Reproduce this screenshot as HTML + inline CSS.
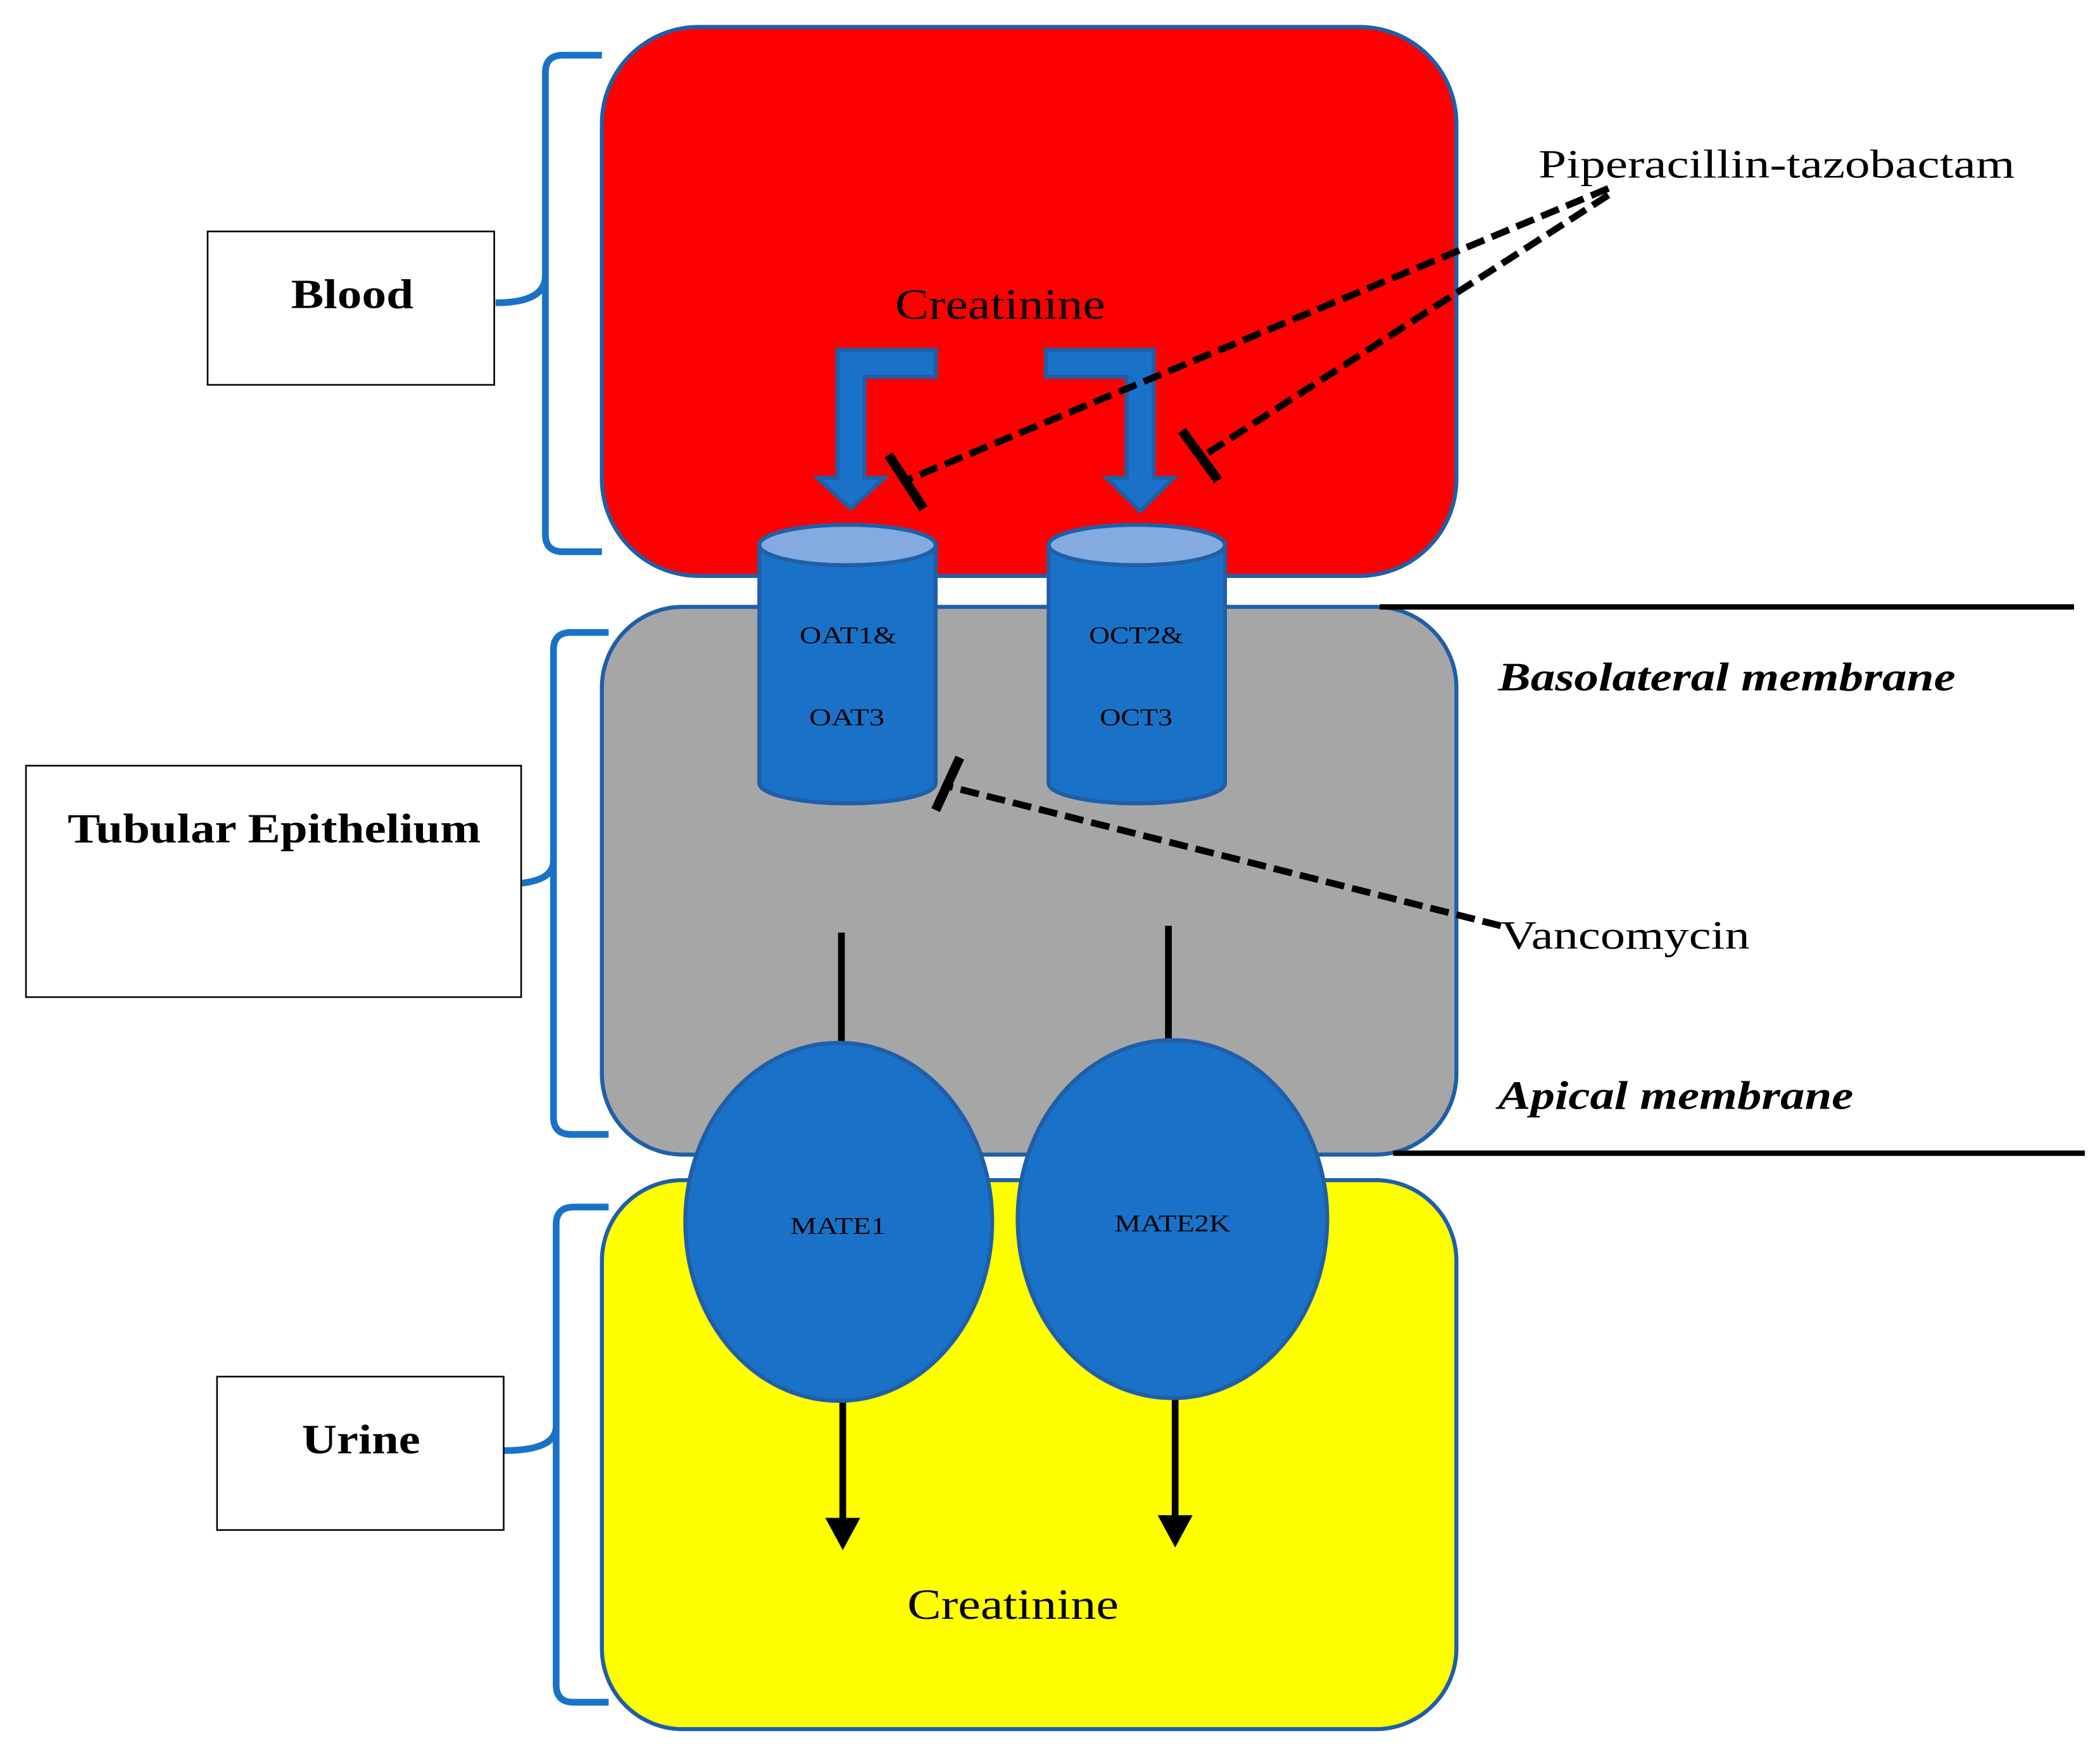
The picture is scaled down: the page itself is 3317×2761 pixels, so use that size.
<!DOCTYPE html>
<html><head><meta charset="utf-8"><style>html,body{margin:0;padding:0;background:#fff}svg{display:block}</style></head>
<body>
<svg width="3317" height="2761" viewBox="0 0 1560 1299" xmlns="http://www.w3.org/2000/svg" font-family="'Liberation Serif', serif">
<rect x="0" y="0" width="1560" height="1299" fill="#fff"/>
<rect x="447" y="20" width="635" height="408" rx="72" fill="#ff0000" stroke="#1f5fa8" stroke-width="3"/>
<rect x="447" y="451" width="635" height="407" rx="60" fill="#a6a6a6" stroke="#1f5fa8" stroke-width="3"/>
<rect x="447" y="877" width="635" height="408" rx="60" fill="#ffff00" stroke="#1f5fa8" stroke-width="3"/>
<g fill="none" stroke="#1a72c8" stroke-width="5">
<path d="M447,41 L418,41 Q405,41 405,54 L405,397 Q405,410 418,410 L447,410 M405,205 Q405,225 368,225"/>
<path d="M452,470 L424,470 Q411,470 411,483 L411,830 Q411,843 424,843 L452,843 M411,640 Q411,657 374,657"/>
<path d="M452,897 L426,897 Q413,897 413,910 L413,1252 Q413,1265 426,1265 L452,1265 M413,1060 Q413,1078 374,1078"/>
</g>
<g fill="#fff" stroke="#000" stroke-width="1.2">
<rect x="154" y="172" width="213" height="114"/>
<rect x="19" y="569" width="368" height="172"/>
<rect x="161" y="1023" width="213" height="114"/>
</g>
<g font-weight="bold" font-size="31" fill="#000" lengthAdjust="spacingAndGlyphs">
<text x="216" y="229" textLength="91" lengthAdjust="spacingAndGlyphs">Blood</text>
<text x="50" y="626" textLength="307" lengthAdjust="spacingAndGlyphs">Tubular Epithelium</text>
<text x="224" y="1080" textLength="88" lengthAdjust="spacingAndGlyphs">Urine</text>
</g>
<text x="665" y="237" font-size="32" textLength="156" lengthAdjust="spacingAndGlyphs">Creatinine</text>
<text x="674" y="1203" font-size="32" textLength="157" lengthAdjust="spacingAndGlyphs">Creatinine</text>
<g fill="#1a72c8" stroke="#1f5fa8" stroke-width="3">
<polygon points="695,260 695,280 642,280 642,355 657,355 632,378 607,355 622,355 622,260"/>
<polygon points="777,260 857,260 857,355 872,355 847,380 822,355 837,355 837,280 777,280"/>
</g>
<g stroke="#1f5fa8" stroke-width="3">
<path d="M564,405 L564,582 A65.5,15 0 0 0 695,582 L695,405 Z" fill="#1a72c8"/>
<ellipse cx="629.5" cy="405" rx="65.5" ry="15" fill="#83abdf"/>
<path d="M779,405 L779,582 A65.5,15 0 0 0 910,582 L910,405 Z" fill="#1a72c8"/>
<ellipse cx="844.5" cy="405" rx="65.5" ry="15" fill="#83abdf"/>
</g>
<g font-size="18" fill="#000">
<text x="594" y="478" textLength="72" lengthAdjust="spacingAndGlyphs">OAT1&amp;</text>
<text x="601" y="539" textLength="56" lengthAdjust="spacingAndGlyphs">OAT3</text>
<text x="809" y="478" textLength="70" lengthAdjust="spacingAndGlyphs">OCT2&amp;</text>
<text x="817" y="539" textLength="54" lengthAdjust="spacingAndGlyphs">OCT3</text>
</g>
<g stroke="#000" stroke-width="5">
<line x1="625" y1="693" x2="625" y2="778"/>
<line x1="868" y1="688" x2="868" y2="775"/>
<line x1="626" y1="1040" x2="626" y2="1132"/>
<line x1="873" y1="1038" x2="873" y2="1130"/>
</g>
<polygon points="613,1128 639,1128 626,1152" fill="#000"/>
<polygon points="860,1126 886,1126 873,1150" fill="#000"/>
<g fill="#1a72c8" stroke="#1f5fa8" stroke-width="3">
<ellipse cx="623" cy="908" rx="114" ry="133"/>
<ellipse cx="871" cy="906" rx="115" ry="133"/>
</g>
<g font-size="18" fill="#000">
<text x="587" y="917" textLength="71" lengthAdjust="spacingAndGlyphs">MATE1</text>
<text x="828" y="915" textLength="86" lengthAdjust="spacingAndGlyphs">MATE2K</text>
</g>
<g stroke="#000" stroke-width="4">
<line x1="1025" y1="451" x2="1541" y2="451"/>
<line x1="1035" y1="857" x2="1549" y2="857"/>
</g>
<g font-size="30" font-style="italic" font-weight="bold" fill="#000">
<text x="1113" y="513" textLength="340" lengthAdjust="spacingAndGlyphs">Basolateral membrane</text>
<text x="1113" y="824" textLength="264" lengthAdjust="spacingAndGlyphs">Apical membrane</text>
</g>
<text x="1143" y="132" font-size="30" fill="#000" textLength="354" lengthAdjust="spacingAndGlyphs">Piperacillin-tazobactam</text>
<text x="1115" y="705" font-size="30" fill="#000" textLength="185" lengthAdjust="spacingAndGlyphs">Vancomycin</text>
<g stroke="#000" stroke-width="5" fill="none">
<line x1="1195" y1="140" x2="673" y2="357" stroke-dasharray="14 6"/>
<line x1="1195" y1="145" x2="892" y2="340" stroke-dasharray="14 6"/>
<line x1="1115" y1="688" x2="703" y2="584" stroke-dasharray="14 6"/>
<line x1="660" y1="338" x2="686" y2="378" stroke-width="7"/>
<line x1="878" y1="320" x2="905" y2="357" stroke-width="7"/>
<line x1="713" y1="563" x2="695" y2="602" stroke-width="7"/>
</g>
</svg>
</body></html>
